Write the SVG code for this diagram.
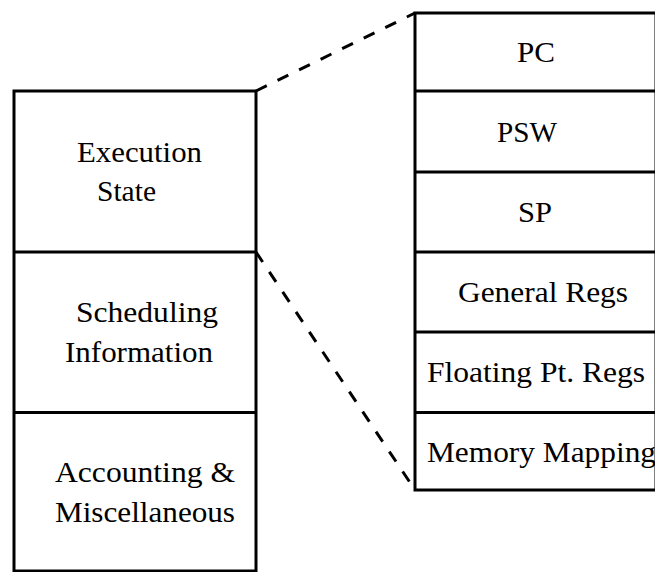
<svg xmlns="http://www.w3.org/2000/svg" width="655" height="572" viewBox="0 0 655 572">
<style>
.box{fill:none;stroke:#000;stroke-width:3}
.div{stroke:#000;stroke-width:3}
.dash{stroke:#000;stroke-width:3;stroke-dasharray:12 12;fill:none}
.t{font-size:30px;fill:#000}
</style>
<rect width="655" height="572" fill="#fff"/>
<g id="connectors">
<line class="dash" x1="256" y1="91" x2="415" y2="13"/>
<line class="dash" x1="256" y1="252" x2="415" y2="490"/>
</g>
<g font-family="'Liberation Serif', 'DejaVu Serif', 'Times New Roman', serif">
<g id="pcb">
<rect class="box" x="14" y="91" width="242" height="480"/>
<g id="execution-state">
<text class="t" x="77" y="162" textLength="125" lengthAdjust="spacingAndGlyphs">Execution</text>
<text class="t" x="97" y="201" textLength="59" lengthAdjust="spacingAndGlyphs">State</text>
</g>
<g id="scheduling-information">
<line class="div" x1="14" y1="252" x2="256" y2="252"/>
<text class="t" x="76" y="322" textLength="142" lengthAdjust="spacingAndGlyphs">Scheduling</text>
<text class="t" x="65" y="362" textLength="148" lengthAdjust="spacingAndGlyphs">Information</text>
</g>
<g id="accounting">
<line class="div" x1="14" y1="412.5" x2="256" y2="412.5"/>
<text class="t" x="55" y="482" textLength="180" lengthAdjust="spacingAndGlyphs">Accounting &amp;</text>
<text class="t" x="55" y="522" textLength="180" lengthAdjust="spacingAndGlyphs">Miscellaneous</text>
</g>
</g>
<g id="execution-detail">
<rect class="box" x="415" y="13" width="241" height="477"/>
<g id="pc">
<text class="t" x="517" y="62" textLength="38" lengthAdjust="spacingAndGlyphs">PC</text>
</g>
<g id="psw">
<line class="div" x1="415" y1="91" x2="656" y2="91"/>
<text class="t" x="497" y="142" textLength="60" lengthAdjust="spacingAndGlyphs">PSW</text>
</g>
<g id="sp">
<line class="div" x1="415" y1="172" x2="656" y2="172"/>
<text class="t" x="518" y="222" textLength="34" lengthAdjust="spacingAndGlyphs">SP</text>
</g>
<g id="general-regs">
<line class="div" x1="415" y1="252" x2="656" y2="252"/>
<text class="t" x="458" y="302" textLength="170" lengthAdjust="spacingAndGlyphs">General Regs</text>
</g>
<g id="floating-regs">
<line class="div" x1="415" y1="332" x2="656" y2="332"/>
<text class="t" x="427" y="382" textLength="218" lengthAdjust="spacingAndGlyphs">Floating Pt. Regs</text>
</g>
<g id="memory-mapping">
<line class="div" x1="415" y1="412.5" x2="656" y2="412.5"/>
<text class="t" x="427" y="462" textLength="229" lengthAdjust="spacingAndGlyphs">Memory Mapping</text>
</g>
</g>
</g>
</svg>
